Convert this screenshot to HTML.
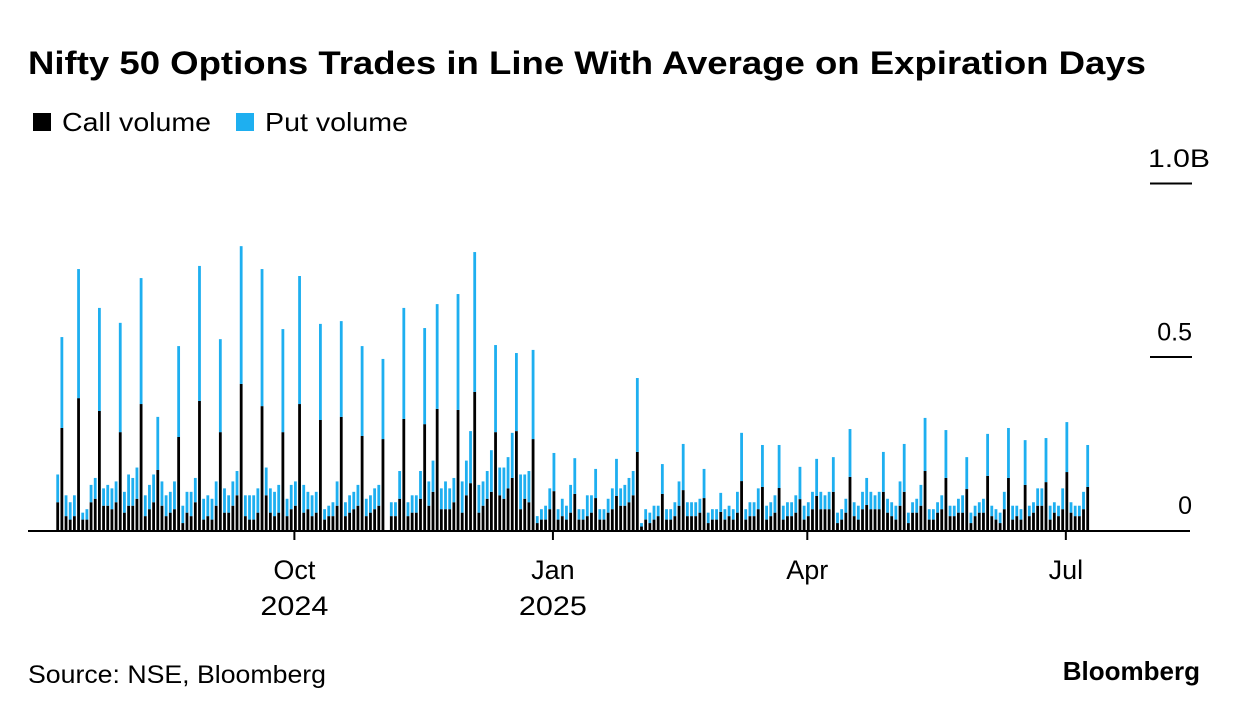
<!DOCTYPE html>
<html><head><meta charset="utf-8"><style>
body{margin:0;background:#fff;width:1240px;height:716px;overflow:hidden;font-family:"Liberation Sans",sans-serif;}
svg{display:block}
</style></head><body>
<svg id="chart" width="1240" height="716">
<text x="28" y="74" font-size="32" font-weight="bold" fill="#000" textLength="1118" lengthAdjust="spacingAndGlyphs">Nifty 50 Options Trades in Line With Average on Expiration Days</text>
<g>
<rect x="33" y="113" width="18" height="18" fill="#000"/>
<text x="62" y="131" font-size="26" fill="#000" textLength="149" lengthAdjust="spacingAndGlyphs">Call volume</text>
<rect x="236" y="113" width="18" height="18" fill="#1eaff0"/>
<text x="265" y="131" font-size="26" fill="#000" textLength="143" lengthAdjust="spacingAndGlyphs">Put volume</text>
</g>
<g id="yaxis"></g>
<g id="bars"></g>
<g id="xaxis"></g>
<text x="28" y="683" font-size="25" fill="#000" textLength="298" lengthAdjust="spacingAndGlyphs">Source: NSE, Bloomberg</text>
<text x="1200" y="680" font-size="26" font-weight="bold" fill="#000" text-anchor="end">Bloomberg</text>
</svg>
<script>
const callVol = [
.08,.294,.04,.03,.04,.380,.03,.03,.08,.09,
.343,.07,.07,.06,.08,.282,.05,.07,.07,.09,
.363,.04,.06,.08,.173,.07,.04,.05,.06,.268,
.02,.05,.04,.08,.372,.03,.04,.03,.07,.282,
.05,.05,.07,.10,.421,.04,.03,.03,.05,.357,
.10,.05,.04,.05,.282,.04,.06,.07,.363,.05,
.06,.04,.05,.317,.03,.04,.04,.07,.326,.04,
.05,.06,.07,.271,.04,.05,.06,.07,.262,0,
.04,.04,.09,.320,.04,.05,.05,.09,.305,.07,
.11,.349,.06,.06,.06,.08,.346,.05,.10,.135,
.398,.05,.07,.09,.11,.282,.10,.09,.12,.15,
.285,.06,.09,.08,.262,.02,.03,.03,.06,.112,
.03,.04,.03,.05,.104,.03,.03,.04,.05,.092,
.03,.03,.05,.06,.098,.07,.07,.08,.10,.225,
.01,.03,.02,.03,.04,.104,.03,.03,.04,.07,
.115,.04,.04,.04,.05,.092,.02,.03,.03,.052,
.03,.04,.03,.05,.141,.03,.04,.04,.06,.124,
.03,.04,.05,.121,.03,.04,.04,.05,.089,.03,
.04,.06,.098,.06,.06,.06,.110,.02,.03,.05,
.153,.04,.03,.06,.072,.06,.06,.06,.110,.05,
.04,.03,.07,.110,.02,.05,.05,.07,.170,.03,
.03,.05,.06,.150,.04,.04,.05,.05,.118,.02,
.04,.05,.05,.156,.04,.03,.02,.06,.150,.03,
.04,.03,.130,.04,.05,.07,.07,.138,.03,.05,
.04,.06,.167,.05,.04,.04,.06,.124];
const putVol = [
.08,.262,.06,.05,.06,.372,.02,.03,.05,.06,
.297,.05,.06,.06,.06,.315,.06,.09,.08,.09,
.363,.06,.07,.08,.153,.07,.06,.06,.08,.262,
.05,.06,.07,.07,.389,.06,.06,.06,.07,.268,
.07,.05,.07,.07,.397,.06,.07,.07,.07,.395,
.08,.07,.07,.08,.297,.05,.07,.07,.369,.08,
.05,.06,.06,.277,.03,.03,.04,.07,.276,.04,
.05,.05,.06,.259,.05,.05,.06,.06,.231,0,
.04,.04,.08,.320,.04,.05,.05,.08,.277,.07,
.09,.302,.06,.08,.06,.07,.334,.09,.10,.15,
.403,.08,.07,.08,.12,.251,.08,.09,.09,.13,
.225,.10,.07,.09,.257,.02,.03,.04,.06,.110,
.03,.05,.04,.08,.103,.03,.03,.06,.05,.084,
.03,.03,.04,.06,.107,.05,.06,.07,.07,.213,
.01,.03,.03,.04,.03,.086,.03,.03,.04,.07,
.133,.04,.04,.04,.04,.084,.03,.03,.03,.055,
.03,.03,.03,.06,.139,.03,.04,.04,.06,.121,
.04,.04,.05,.124,.04,.04,.04,.05,.093,.04,
.04,.05,.107,.05,.04,.05,.100,.03,.03,.04,
.138,.04,.04,.05,.078,.05,.04,.05,.115,.04,
.04,.04,.07,.138,.03,.03,.04,.06,.153,.03,
.03,.03,.04,.138,.03,.03,.04,.05,.092,.03,
.03,.03,.04,.121,.03,.03,.03,.05,.144,.04,
.03,.03,.129,.03,.03,.05,.05,.127,.04,.03,
.03,.06,.144,.03,.03,.03,.05,.121];
const yTicks = [0, 0.5, 1.0];
const yTickLabels = ["0", "0.5", "1.0B"];
const xTickIndex = [57, 119, 180, 242];
const xTickMonth = ["Oct", "Jan", "Apr", "Jul"];
const xTickYear = ["2024", "2025", "", ""];

const NS = "http://www.w3.org/2000/svg";
const baseY = 530, pxPerUnit = 347, x0 = 57.7, step = 4.17, barW = 2.8;
function yScale(v){ return baseY - v * pxPerUnit; }
function xScale(i){ return x0 + i * step; }
function mk(tag, attrs, parent){ const e = document.createElementNS(NS, tag); for (const k in attrs) e.setAttribute(k, attrs[k]); parent.appendChild(e); return e; }

const yg = document.getElementById('yaxis');
yTicks.forEach((t, k) => {
  const y = yScale(t);
  if (t > 0) {
    const ln = mk('line', {x1:1150, x2:1192, y1:y+0.5, y2:y+0.5, stroke:'#000', 'stroke-width':2}, yg);
    
    
  }
  const attrs = {x: t === 1 ? 1148 : 1192, y: y - 16, 'font-size':25, 'text-anchor': t === 1 ? 'start' : 'end', fill:'#000'};
  if (t === 1) { attrs.textLength = 62; attrs.lengthAdjust = 'spacingAndGlyphs'; }
  const tx = mk('text', attrs, yg);
  tx.textContent = yTickLabels[k];
  
  
});

const bg = document.getElementById('bars');
callVol.forEach((c, i) => {
  const p = putVol[i];
  const x = xScale(i) - barW / 2;
  if (c + p <= 0) return;
  const rc = mk('rect', {x:x, y:yScale(c), width:barW, height:c * pxPerUnit, fill:'#000'}, bg);
  
  
  const rp = mk('rect', {x:x, y:yScale(c + p), width:barW, height:p * pxPerUnit, fill:'#1eaff0'}, bg);
  
  
});

const xg = document.getElementById('xaxis');
const axl = mk('line', {x1:28, x2:1190, y1:531, y2:531, stroke:'#000', 'stroke-width':2}, xg);


xTickIndex.forEach((ti, k) => {
  const x = xScale(ti) - 1;
  const tk = mk('line', {x1:x, x2:x, y1:531, y2:540, stroke:'#000', 'stroke-width':2}, xg);
  
  
  const t1 = mk('text', {x:x, y:579, 'font-size':27, 'text-anchor':'middle', fill:'#000'}, xg);
  t1.textContent = xTickMonth[k];
  
  
  if (xTickYear[k]) {
    const t2 = mk('text', {x:x, y:615, 'font-size':27, 'text-anchor':'middle', fill:'#000', textLength:68, lengthAdjust:'spacingAndGlyphs'}, xg);
    t2.textContent = xTickYear[k];
    
    
  }
});
</script>
</body></html>
